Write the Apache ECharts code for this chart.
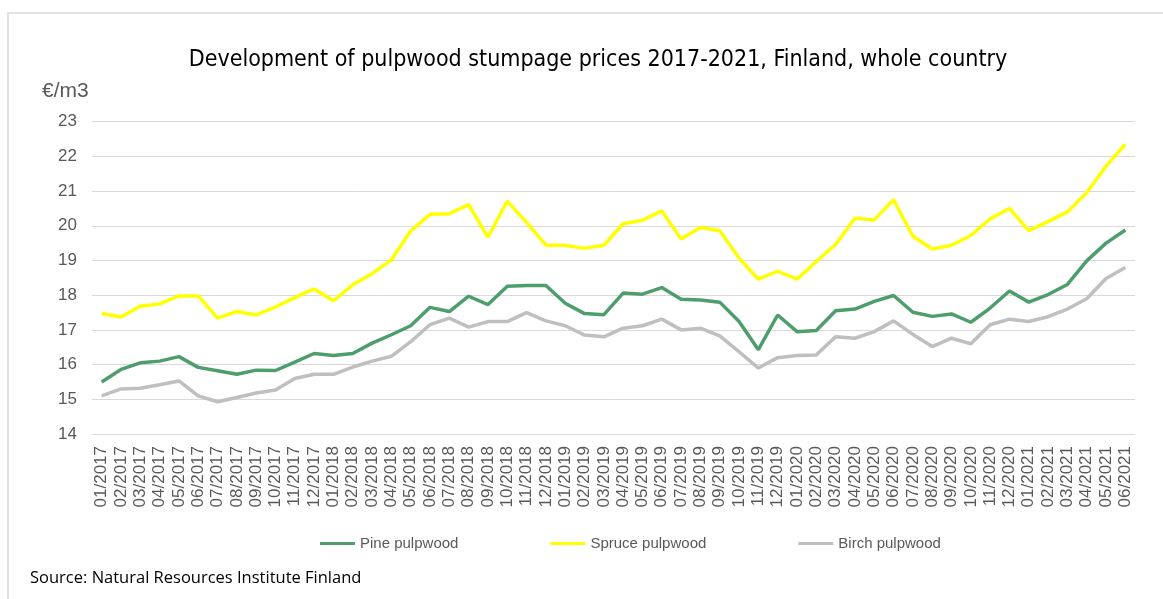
<!DOCTYPE html>
<html>
<head>
<meta charset="utf-8">
<script src="https://cdn.jsdelivr.net/npm/echarts@6/dist/echarts.min.js"></script>
<style>html,body{margin:0;padding:0;background:#fff;}#c{width:1163px;height:599px;}</style>
</head>
<body>
<div id="c"></div>
<script>
const months = [
  "01/2017","02/2017","03/2017","04/2017","05/2017","06/2017","07/2017","08/2017","09/2017","10/2017","11/2017","12/2017",
  "01/2018","02/2018","03/2018","04/2018","05/2018","06/2018","07/2018","08/2018","09/2018","10/2018","11/2018","12/2018",
  "01/2019","02/2019","03/2019","04/2019","05/2019","06/2019","07/2019","08/2019","09/2019","10/2019","11/2019","12/2019",
  "01/2020","02/2020","03/2020","04/2020","05/2020","06/2020","07/2020","08/2020","09/2020","10/2020","11/2020","12/2020",
  "01/2021","02/2021","03/2021","04/2021","05/2021","06/2021"
];
const pine = [
  15.50,15.86,16.05,16.10,16.23,15.92,15.82,15.72,15.84,15.83,16.07,16.32,
  16.26,16.32,16.62,16.86,17.12,17.65,17.53,17.97,17.73,18.26,18.28,18.28,
  17.77,17.47,17.44,18.06,18.03,18.22,17.88,17.86,17.80,17.24,16.43,17.43,
  16.95,16.98,17.55,17.60,17.82,17.99,17.51,17.39,17.46,17.22,17.63,18.12,
  17.80,18.02,18.31,18.99,19.50,19.88
];
const spruce = [
  17.47,17.37,17.68,17.75,17.98,17.98,17.34,17.53,17.43,17.66,17.93,18.18,
  17.84,18.30,18.62,19.02,19.85,20.33,20.35,20.61,19.67,20.71,20.10,19.44,
  19.44,19.35,19.44,20.06,20.16,20.43,19.62,19.95,19.86,19.07,18.46,18.69,
  18.46,18.97,19.46,20.22,20.17,20.75,19.70,19.33,19.44,19.72,20.20,20.50,
  19.86,20.12,20.40,20.95,21.72,22.35
];
const birch = [
  15.10,15.30,15.32,15.42,15.53,15.10,14.93,15.05,15.18,15.27,15.60,15.72,
  15.72,15.93,16.10,16.24,16.66,17.15,17.34,17.08,17.24,17.24,17.50,17.26,
  17.12,16.85,16.80,17.05,17.12,17.31,17.00,17.05,16.83,16.37,15.90,16.20,
  16.26,16.28,16.80,16.76,16.95,17.26,16.87,16.52,16.76,16.60,17.15,17.31,
  17.24,17.38,17.60,17.90,18.48,18.80
];
const seriesNames = ["Pine pulpwood","Spruce pulpwood","Birch pulpwood"];
const seriesColors = ["#4e9d6c","#ffff00","#bfbfbf"];
const seriesData = [pine, spruce, birch];

const chart = echarts.init(document.getElementById('c'), null, {renderer:'canvas'});
const labelFont = "'Liberation Sans', Arial, sans-serif";
chart.setOption({
  animation:false,
  backgroundColor:'#ffffff',
  title:{
    text:'Development of pulpwood stumpage prices 2017-2021, Finland, whole country',
    left:593, textAlign:'center', top:44,
    textStyle:{fontFamily:"'DejaVu Sans Condensed','DejaVu Sans',sans-serif",fontSize:23,fontWeight:'normal',color:'#000'}
  },
  legend:{
    data:seriesNames, left:315, top:531, icon:'rect', itemWidth:35, itemHeight:3, itemGap:92,
    textStyle:{fontFamily:labelFont,fontSize:15,color:'#595959'}
  },
  grid:{left:92,right:28,top:121.7,bottom:165,containLabel:false},
  xAxis:{
    type:'category', data:months, boundaryGap:true,
    axisLine:{show:true,lineStyle:{color:'#d9d9d9',width:1}},
    axisTick:{show:false},
    axisLabel:{rotate:90,interval:0,margin:12,fontFamily:labelFont,fontSize:17,color:'#595959'}
  },
  yAxis:{
    type:'value', min:14, max:23, interval:1,
    name:'€/m3', nameLocation:'end', nameGap:0,
    nameTextStyle:{fontFamily:labelFont,fontSize:21,color:'#595959',align:'left',padding:[0,0,20,-50]},
    axisLine:{show:false}, axisTick:{show:false},
    splitLine:{lineStyle:{color:'#d9d9d9',width:1}},
    axisLabel:{fontFamily:labelFont,fontSize:17,color:'#595959',margin:15}
  },
  series: seriesNames.map((n,i)=>({
    name:n, type:'line', data:seriesData[i], symbol:'none', smooth:false,
    lineStyle:{color:seriesColors[i],width:3.5}, itemStyle:{color:seriesColors[i]}, z:3-i
  })),
  graphic:[
    {type:'polyline', shape:{points:[[8,620],[8,13],[1170,13]]}, style:{stroke:'#d9d9d9',lineWidth:1.5,fill:null}, silent:true},
    {type:'text', left:30, top:570, style:{text:'Source: Natural Resources Institute Finland', fontFamily:"'Open Sans',sans-serif", fontSize:16.5, fill:'#000'}}
  ]
});
</script>
</body>
</html>
